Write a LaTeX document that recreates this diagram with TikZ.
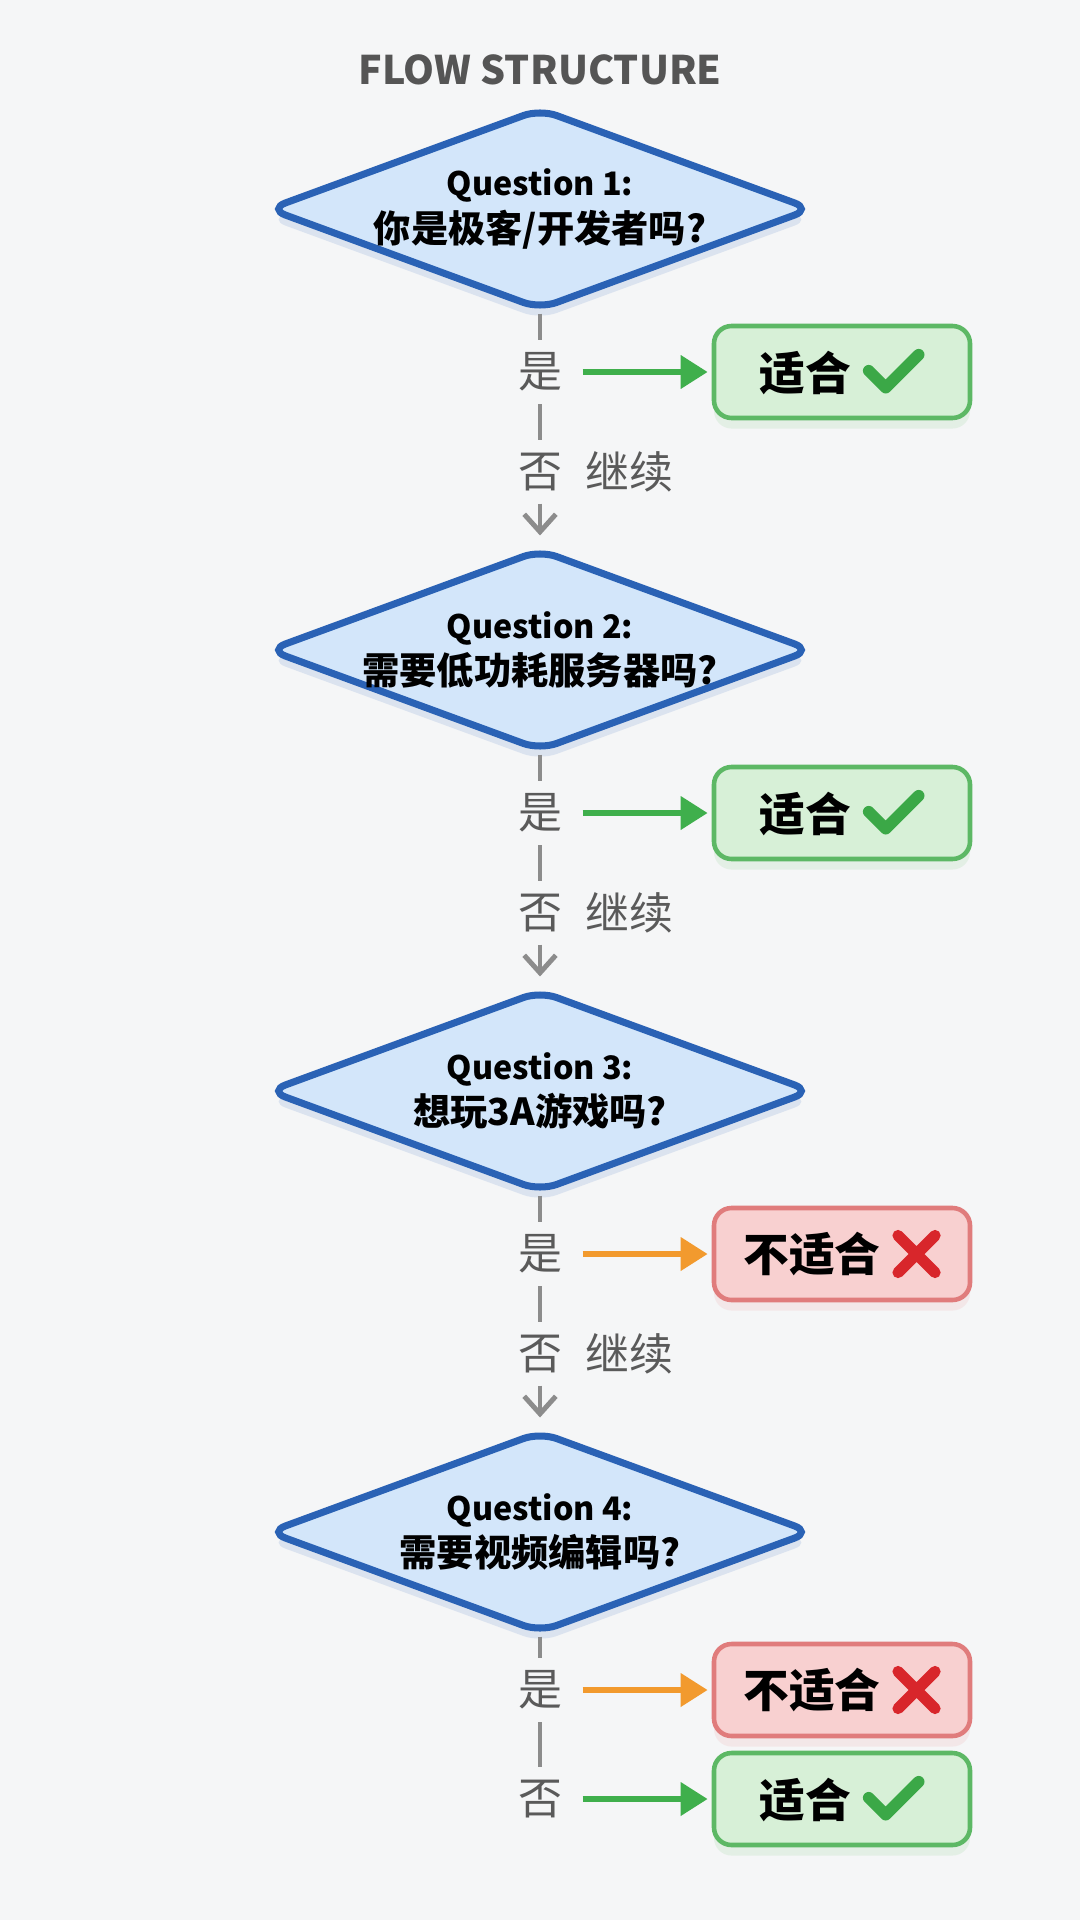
\documentclass[tikz,border=0pt]{standalone}
\usepackage{fontspec}
\setmainfont{Noto Sans CJK SC}
\usetikzlibrary{shapes.geometric,arrows.meta,shadows,positioning}

\definecolor{bgcol}{HTML}{F5F6F7}
\definecolor{titlegray}{HTML}{555555}
\definecolor{labelgray}{HTML}{5A5A5A}
\definecolor{linegray}{HTML}{8C8C8C}
\definecolor{qfill}{HTML}{D3E6FA}
\definecolor{qborder}{HTML}{2A62B5}
\definecolor{okfill}{HTML}{D7F0D7}
\definecolor{okborder}{HTML}{5DB865}
\definecolor{nofill}{HTML}{F8D0D0}
\definecolor{noborder}{HTML}{E07C7C}
\definecolor{okarrowcol}{HTML}{3FAF4C}
\definecolor{noarrowcol}{HTML}{F29A2E}
\definecolor{tickgreen}{HTML}{3BA847}
\definecolor{crossred}{HTML}{D8262B}

% small icons set after the answer text
\newcommand{\okmark}{\tikz[baseline=0pt]\draw[tickgreen,line width=3.3pt,line cap=round,line join=round,sharp corners] (0,0.2) -- (0.17,0.03) -- (0.5,0.36);}
\newcommand{\nomark}{\tikz[baseline=0pt]\draw[crossred,line width=3.2pt,line cap=round,sharp corners] (0,-0.01) -- (0.37,0.36) (0,0.36) -- (0.37,-0.01);}

\tikzset{
  question/.style={diamond, draw=qborder, fill=qfill, line width=2pt, rounded corners=5pt,
    aspect=2.7, minimum width=5.45cm, minimum height=2.02cm,
    inner xsep=-0.2cm, inner ysep=-0.1cm, align=center,
    font=\fontsize{10.6}{13.2}\selectfont\bfseries,
    drop shadow={shadow xshift=0pt,shadow yshift=-3pt,fill=qborder!45,opacity=.3}},
  answer/.style={rectangle, rounded corners=5pt, line width=1.3pt,
    minimum width=2.56cm, minimum height=0.92cm,
    font=\fontsize{13}{14}\selectfont\bfseries},
  okbox/.style={answer, draw=okborder, fill=okfill,
    drop shadow={shadow xshift=0pt,shadow yshift=-3pt,fill=okborder!50,opacity=.25}},
  nobox/.style={answer, draw=noborder, fill=nofill,
    drop shadow={shadow xshift=0pt,shadow yshift=-3pt,fill=noborder!50,opacity=.25}},
  branch/.style={text=labelgray, inner xsep=0.05cm, inner ysep=0.12cm,
    font=\fontsize{12.5}{14}\selectfont},
  flow/.style={draw=linegray, line width=1.4pt},
  okarrow/.style={draw=okarrowcol, line width=1.9pt, -{Triangle[length=0.27cm,width=0.32cm]},
    shorten <=0.15cm, shorten >=0.04cm},
  noarrow/.style={okarrow, draw=noarrowcol}
}

\begin{document}
\begin{tikzpicture}
    % Page and background
    \useasboundingbox (0,0) rectangle (10.8,-19.2);
    \fill[bgcol] (0,0) rectangle (10.8,-19.2);

    % Title
    \node[text=titlegray, font=\fontsize{11.2}{13}\selectfont\bfseries] (title) at (5.4,-0.7) {FLOW STRUCTURE};

    % Questions
    \node[question] (q1) at (5.4,-2.09) {{\fontsize{9.2}{13.2}\selectfont Question 1:}\\你是极客/开发者吗?};
    \node[question] (q2) at (5.4,-6.50) {{\fontsize{9.2}{13.2}\selectfont Question 2:}\\需要低功耗服务器吗?};
    \node[question] (q3) at (5.4,-10.91) {{\fontsize{9.2}{13.2}\selectfont Question 3:}\\想玩3A游戏吗?};
    \node[question] (q4) at (5.4,-15.32) {{\fontsize{9.2}{13.2}\selectfont Question 4:}\\需要视频编辑吗?};

    % Yes / no labels
    \node[branch] (yes1) at (5.4,-3.72) {是};
    \node[branch] (no1) at (5.4,-4.72) {否};
    \node[branch, right=0.12cm of no1] (go1) {继续};
    \node[branch] (yes2) at (5.4,-8.13) {是};
    \node[branch] (no2) at (5.4,-9.13) {否};
    \node[branch, right=0.12cm of no2] (go2) {继续};
    \node[branch] (yes3) at (5.4,-12.54) {是};
    \node[branch] (no3) at (5.4,-13.54) {否};
    \node[branch, right=0.12cm of no3] (go3) {继续};
    \node[branch] (yes4) at (5.4,-16.9) {是};
    \node[branch] (no4) at (5.4,-17.99) {否};

    % Answers
    \node[okbox] (fit1) at (8.42,-3.72) {适合\hspace{0.12cm}\okmark};
    \node[okbox] (fit2) at (8.42,-8.13) {适合\hspace{0.12cm}\okmark};
    \node[nobox] (unfit3) at (8.42,-12.54) {不适合\hspace{0.12cm}\nomark};
    \node[nobox] (unfit4) at (8.42,-16.9) {不适合\hspace{0.12cm}\nomark};
    \node[okbox] (fit4) at (8.42,-17.99) {适合\hspace{0.12cm}\okmark};

    % Main line down the page
    \draw[flow] (q1.south) -- (yes1) (yes1) -- (no1);
    \draw[flow, -{Straight Barb[length=5pt,width=9pt]}, shorten >=0.1cm] (no1) -- (q2.north);
    \draw[flow] (q2.south) -- (yes2) (yes2) -- (no2);
    \draw[flow, -{Straight Barb[length=5pt,width=9pt]}, shorten >=0.1cm] (no2) -- (q3.north);
    \draw[flow] (q3.south) -- (yes3) (yes3) -- (no3);
    \draw[flow, -{Straight Barb[length=5pt,width=9pt]}, shorten >=0.1cm] (no3) -- (q4.north);
    \draw[flow] (q4.south) -- (yes4) (yes4) -- (no4);

    % Arrows to the answers
    \draw[okarrow] (yes1.east) -- (fit1.west);
    \draw[okarrow] (yes2.east) -- (fit2.west);
    \draw[noarrow] (yes3.east) -- (unfit3.west);
    \draw[noarrow] (yes4.east) -- (unfit4.west);
    \draw[okarrow] (no4.east) -- (fit4.west);
\end{tikzpicture}
\end{document}
